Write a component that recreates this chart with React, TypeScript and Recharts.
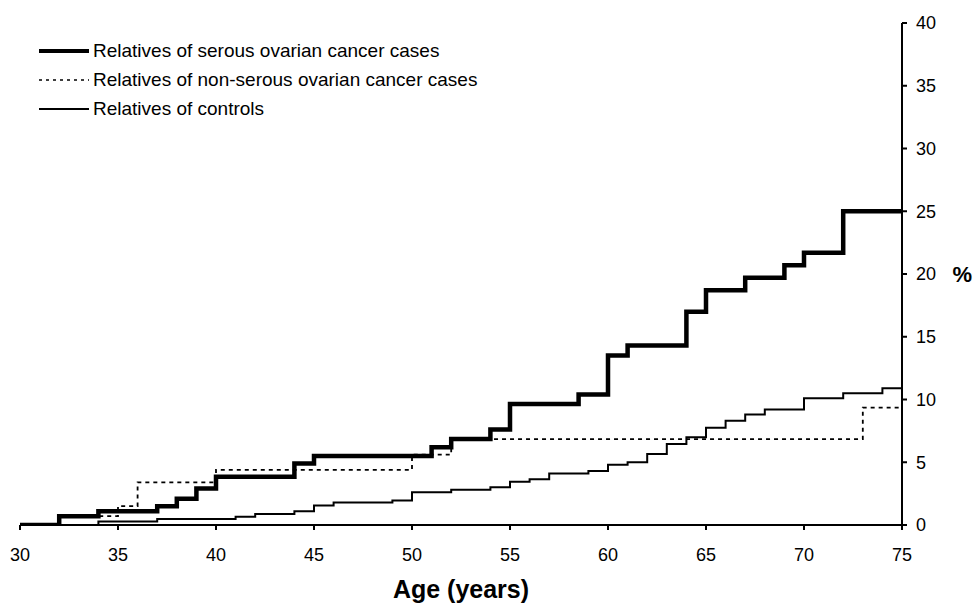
import { Line, LineChart, XAxis, YAxis } from "recharts"

const serousAges = [30, 32, 34, 37, 38, 39, 40, 44, 45, 51, 52, 54, 55, 58.5, 60, 61, 64, 65, 67, 69, 70, 72, 75]
const serousPct = [0, 0.7, 1.1, 1.5, 2.1, 2.9, 3.85, 4.9, 5.5, 6.2, 6.85, 7.6, 9.65, 10.4, 13.5, 14.3, 17.0, 18.7, 19.7, 20.7, 21.7, 25.0, 25.0]

const nonSerousAges = [30, 32, 35, 36, 40, 50, 52, 73, 75]
const nonSerousPct = [0, 0.7, 1.5, 3.4, 4.4, 5.6, 6.85, 9.35, 9.35]

const controlAges = [30, 34, 37, 41, 42, 44, 45, 46, 49, 50, 52, 54, 55, 56, 57, 59, 60, 61, 62, 63, 64, 65, 66, 67, 68, 70, 72, 74, 75]
const controlPct = [0, 0.27, 0.48, 0.66, 0.87, 1.1, 1.55, 1.8, 1.95, 2.6, 2.8, 3.0, 3.45, 3.65, 4.1, 4.3, 4.8, 5.0, 5.65, 6.45, 7.0, 7.75, 8.3, 8.8, 9.2, 10.1, 10.5, 10.9, 10.9]

const ageTicks = [30, 35, 40, 45, 50, 55, 60, 65, 70, 75]
const pctTicks = [0, 5, 10, 15, 20, 25, 30, 35, 40]

const toPoints = (ages: number[], pct: number[]) => ages.map((age, i) => ({ age, pct: pct[i] }))

const serous = toPoints(serousAges, serousPct)
const nonSerous = toPoints(nonSerousAges, nonSerousPct)
const controls = toPoints(controlAges, controlPct)

const font = "'Liberation Sans', Arial, sans-serif"

const legendItems = [
  { label: "Relatives of serous ovarian cancer cases", width: 4, dash: undefined },
  { label: "Relatives of non-serous ovarian cancer cases", width: 1.6, dash: "3 4" },
  { label: "Relatives of controls", width: 2, dash: undefined },
]

// drawn over the chart so it doesn't steal plot space
function ChartLegend() {
  return (
    <div style={{ position: "absolute", left: 39, top: 36, fontFamily: font, fontSize: 19, color: "#000" }}>
      {legendItems.map((item) => (
        <div key={item.label} style={{ display: "flex", alignItems: "center", height: 29 }}>
          <svg width={50} height={10} style={{ marginRight: 4 }}>
            <line x1={0} y1={5} x2={50} y2={5} stroke="#000" strokeWidth={item.width} strokeDasharray={item.dash} />
          </svg>
          <span>{item.label}</span>
        </div>
      ))}
    </div>
  )
}

export default function App() {
  return (
    <div style={{ position: "absolute", left: 0, top: 0, width: 974, height: 603, background: "#fff" }}>
      <LineChart width={974} height={603} margin={{ top: 23, right: 0, bottom: 0, left: 20 }}>
        <XAxis
          dataKey="age"
          type="number"
          domain={[30, 75]}
          ticks={ageTicks}
          allowDataOverflow
          stroke="#000"
          strokeWidth={2}
          tickSize={5}
          tickMargin={18}
          height={78}
          tick={{ fill: "#000", fontSize: 18, fontFamily: font }}
          label={{ value: "Age (years)", position: "insideBottom", offset: 5, fill: "#000", fontSize: 25, fontWeight: "bold", fontFamily: font }}
        />
        <YAxis
          dataKey="pct"
          orientation="right"
          type="number"
          domain={[0, 40]}
          ticks={pctTicks}
          allowDataOverflow
          stroke="#000"
          strokeWidth={2}
          tickSize={5}
          tickMargin={9}
          width={72}
          tick={{ fill: "#000", fontSize: 18, fontFamily: font, textAnchor: "start" }}
          label={{ value: "%", position: "insideRight", offset: 2, fill: "#000", fontSize: 22, fontWeight: "bold", fontFamily: font }}
        />
        <Line data={controls} dataKey="pct" type="stepAfter" stroke="#000" strokeWidth={2} dot={false} activeDot={false} isAnimationActive={false} />
        <Line data={nonSerous} dataKey="pct" type="stepAfter" stroke="#000" strokeWidth={1.8} strokeDasharray="4 4" dot={false} activeDot={false} isAnimationActive={false} />
        <Line data={serous} dataKey="pct" type="stepAfter" stroke="#000" strokeWidth={4.5} dot={false} activeDot={false} isAnimationActive={false} />
      </LineChart>
      <ChartLegend />
    </div>
  )
}
